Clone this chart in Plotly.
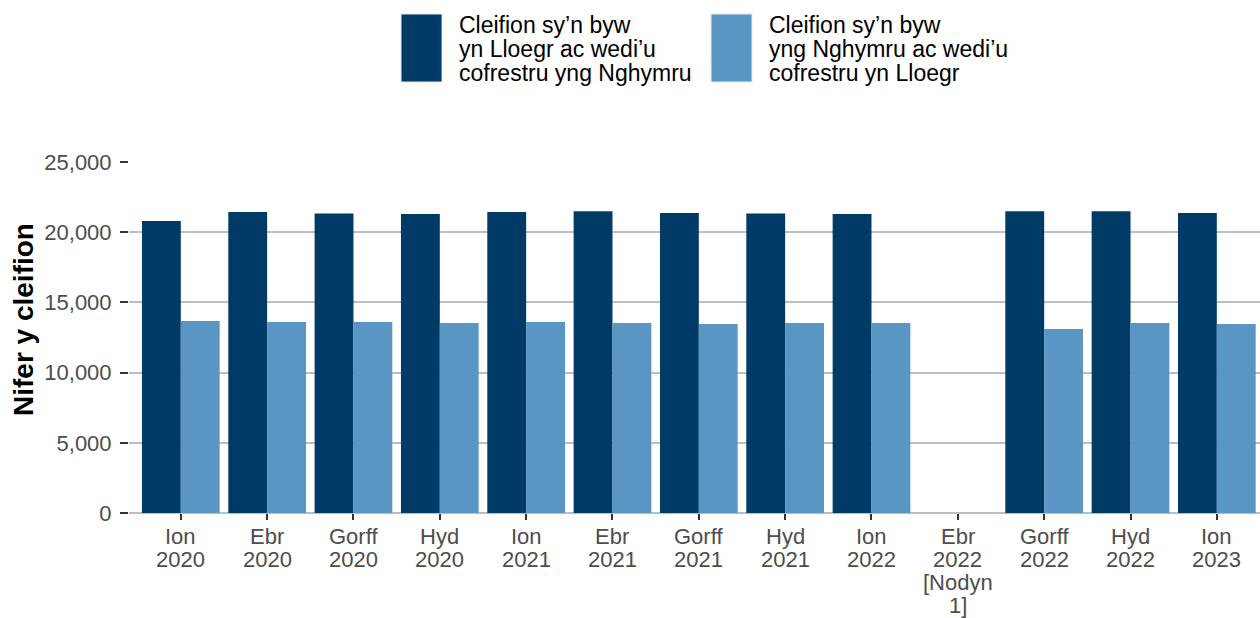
import plotly.graph_objects as go

# categories (quarter + year)
months = ["Ion", "Ebr", "Gorff", "Hyd", "Ion", "Ebr", "Gorff", "Hyd", "Ion", "Ebr", "Gorff", "Hyd", "Ion"]
years = ["2020", "2020", "2020", "2020", "2021", "2021", "2021", "2021", "2022", "2022", "2022", "2022", "2023"]
notes = ["", "", "", "", "", "", "", "", "", "[Nodyn 1]", "", "", ""]
categories = [m + " " + y for m, y in zip(months, years)]

# series values (Ebr 2022 missing)
lives_england_reg_wales = [20800, 21440, 21340, 21300, 21440, 21500, 21370, 21330, 21300, None, 21500, 21500, 21370]
lives_wales_reg_england = [13680, 13600, 13600, 13530, 13600, 13530, 13460, 13530, 13530, None, 13100, 13530, 13460]

series_names = [
    ["Cleifion sy\u2019n byw", "yn Lloegr ac wedi\u2019u", "cofrestru yng Nghymru"],
    ["Cleifion sy\u2019n byw", "yng Nghymru ac wedi\u2019u", "cofrestru yn Lloegr"],
]
colours = ["#003a66", "#5a96c4"]

FONT = "Liberation Sans, Arial, sans-serif"

# plot area in pixels
L, T, W, H = 129, 162, 1131, 351


def px_x(x):
    return (x - L) / W


def px_y(y):
    return (T + H - y) / H


fig = go.Figure()
for names, vals, col in zip(series_names, [lives_england_reg_wales, lives_wales_reg_england], colours):
    fig.add_trace(go.Bar(x=categories, y=vals, name=" ".join(names),
                         marker=dict(color=col, line=dict(width=0)), showlegend=False))

# key drawn as boxes + text lines (tight line spacing as in the original)
leg_x = [401, 711]
for lx, names, col in zip(leg_x, series_names, colours):
    fig.add_shape(type="rect", xref="paper", yref="paper",
                  x0=px_x(lx), x1=px_x(lx + 41), y0=px_y(82), y1=px_y(14),
                  fillcolor=col, line=dict(color="#e3ebf3", width=1))
    for j, line in enumerate(names):
        fig.add_annotation(text=line, xref="paper", yref="paper", showarrow=False,
                           x=px_x(lx + 56), y=px_y(25 + 24 * j),
                           xanchor="left", yanchor="middle", align="left",
                           font=dict(family=FONT, size=23, color="#000000"))

# x tick labels, one line per annotation
for cat, m, y, n in zip(categories, months, years, notes):
    lines = [m, y] + (n.split(" ") if n else [])
    for j, line in enumerate(lines):
        fig.add_annotation(text=line, xref="x", yref="paper", x=cat, y=px_y(536 + 23 * j),
                           showarrow=False, xanchor="center", yanchor="middle",
                           font=dict(family=FONT, size=22, color="#4d4d4d"))

# y axis title
fig.add_annotation(text="<b>Nifer y cleifion</b>", xref="paper", yref="paper", showarrow=False,
                   x=px_x(23), y=px_y(320), textangle=-90, xanchor="center", yanchor="middle",
                   font=dict(family=FONT, size=28, color="#000000"))

fig.update_layout(
    width=1260, height=618,
    margin=dict(l=L, r=1260 - L - W, t=T, b=618 - T - H, autoexpand=False),
    barmode="group", bargap=0.1, bargroupgap=0,
    plot_bgcolor="white", paper_bgcolor="white",
    font=dict(family=FONT, color="#4d4d4d"),
)
fig.update_xaxes(
    type="category", categoryorder="array", categoryarray=categories,
    range=[-0.6, 12.5], showgrid=False, showline=False, zeroline=False,
    showticklabels=False, automargin=False,
    ticks="outside", ticklen=6, tickcolor="#333333", tickwidth=1.5,
)
fig.update_yaxes(
    range=[0, 25000], tickvals=[0, 5000, 10000, 15000, 20000, 25000],
    tickformat=",", showgrid=True, gridcolor="#bebebe", gridwidth=1.5,
    zeroline=True, zerolinecolor="#bebebe", zerolinewidth=1.5, showline=False,
    automargin=False, ticklabelstandoff=4,
    ticks="outside", ticklen=8, tickcolor="#333333", tickwidth=1.5,
    tickfont=dict(family=FONT, size=22, color="#4d4d4d"),
)

# drop the page's default body margin so the figure sits at the window's corner
fig.write_html("out.html", config={"displayModeBar": False},
               post_script="document.body.style.margin='0';")
